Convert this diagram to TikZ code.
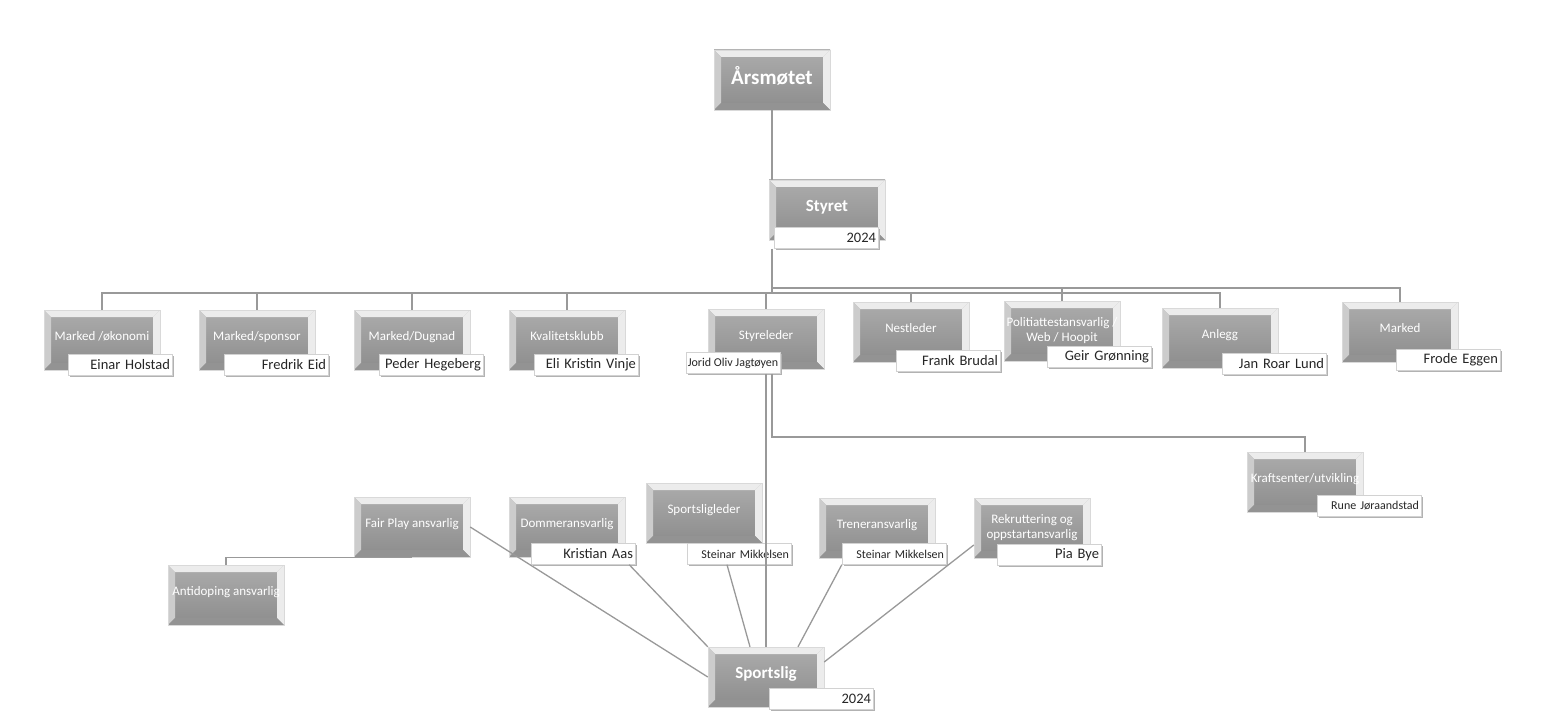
\documentclass[tikz,border=0pt]{standalone}
\usepackage{fontspec}
\setmainfont{Carlito}
\usetikzlibrary{shadows}

\tikzset{
  tile/.style={rectangle, minimum width=116pt, minimum height=60pt, inner sep=1pt,
    top color=gray!65, bottom color=gray!90, draw=gray!30, text=white, align=center,
    font=\fontsize{13}{15}\selectfont, text depth=9pt,
    path picture={
      \path[fill=gray!15] (path picture bounding box.north west) -- (path picture bounding box.north east)
        -- ([shift={(-7pt,-7pt)}]path picture bounding box.north east) -- ([shift={(7pt,-7pt)}]path picture bounding box.north west) -- cycle;
      \path[fill=gray!40] (path picture bounding box.north west) -- ([shift={(7pt,-7pt)}]path picture bounding box.north west)
        -- ([shift={(7pt,7pt)}]path picture bounding box.south west) -- (path picture bounding box.south west) -- cycle;
      \path[fill=gray!15] (path picture bounding box.north east) -- ([shift={(-7pt,-7pt)}]path picture bounding box.north east)
        -- ([shift={(-7pt,7pt)}]path picture bounding box.south east) -- (path picture bounding box.south east) -- cycle;
      \path[fill=gray!85] (path picture bounding box.south west) -- ([shift={(7pt,7pt)}]path picture bounding box.south west)
        -- ([shift={(-7pt,7pt)}]path picture bounding box.south east) -- (path picture bounding box.south east) -- cycle;
    }},
  bigtile/.style={tile, font=\fontsize{17}{19}\selectfont\bfseries},
  namebox/.style={rectangle, fill=white, draw=gray!35, minimum width=104pt, minimum height=21pt,
    inner xsep=2pt, inner ysep=0pt, text width=100pt, align=right, text=black!85,
    font=\fontsize{14.5}{17}\selectfont,
    drop shadow={shadow xshift=1.5pt, shadow yshift=-1.5pt, fill=gray!60, opacity=1}},
  smallname/.style={namebox, font=\fontsize{12}{14}\selectfont},
  link/.style={draw=gray!80, line width=1.3pt}
}

\begin{document}
\begin{tikzpicture}[x=1pt, y=-1pt]
      \useasboundingbox (0,0) rectangle (1547,722);

      \node[bigtile, font=\fontsize{21}{23}\selectfont\bfseries] (A) at (772,80) {Årsmøtet};
      \node[bigtile] (B) at (827,210) {Styret};
      \node[namebox] (B2) at (826,238) {2024};

      \node[tile] (C) at (102,340) {Marked /økonomi};
      \node[namebox] (C2) at (120,365) {Einar Holstad};
      \node[tile] (D) at (257,340) {Marked/sponsor};
      \node[namebox] (D2) at (276,365) {Fredrik Eid};
      \node[tile] (E) at (412,340) {Marked/Dugnad};
      \node[namebox] (E2) at (431,365) {Peder Hegeberg};
      \node[tile] (F) at (567,340) {Kvalitetsklubb};
      \node[namebox] (F2) at (586,365) {Eli Kristin Vinje};
      \node[tile] (G) at (766,339) {Styreleder};
      \node[smallname, minimum width=94pt, text width=, align=center, inner xsep=1pt] (G2) at (733,363) {Jorid Oliv Jagtøyen};
      \node[tile] (H) at (911,332) {Nestleder};
      \node[namebox] (H2) at (948,361) {Frank Brudal};
      \node[tile, text depth=] (I) at (1062,331) {Politiattestansvarlig /\\Web / Hoopit};
      \node[namebox] (I2) at (1099,357) {Geir Grønning};
      \node[tile] (J) at (1220,338) {Anlegg};
      \node[namebox] (J2) at (1274,364) {Jan Roar Lund};
      \node[tile] (K) at (1400,332) {Marked};
      \node[namebox] (K2) at (1448,360) {Frode Eggen};

      \node[tile] (L) at (1305,482) {Kraftsenter/utvikling};
      \node[smallname] (L2) at (1369,506) {Rune Jøraandstad};

      \node[tile] (N) at (412,527) {Fair Play ansvarlig};
      \node[tile] (O) at (226,595) {Antidoping ansvarlig};
      \node[tile] (P) at (567,527) {Dommeransvarlig};
      \node[namebox] (P2) at (583,554) {Kristian Aas};
      \node[tile] (Q) at (704,513) {Sportsligleder};
      \node[smallname] (Q2) at (739,554) {Steinar Mikkelsen};
      \node[tile] (R) at (877,528) {Treneransvarlig};
      \node[smallname] (R2) at (894,554) {Steinar Mikkelsen};
      \node[tile, text depth=] (S) at (1032,528) {Rekruttering og\\oppstartansvarlig};
      \node[namebox] (S2) at (1049,555) {Pia Bye};

      \node[bigtile] (M) at (766,677) {Sportslig};
      \node[namebox] (M2) at (821,699) {2024};

      \coordinate (bus) at (772,293);
      \coordinate (bus2) at (772,288);
      \coordinate (kr) at (772,437);

      \draw[link] (A) -- (A |- B.north);
      \draw[link] (B2.south -| A) -- (bus);
      \draw[link] (bus) -| (C);
      \draw[link] (bus) -| (D);
      \draw[link] (bus) -| (E);
      \draw[link] (bus) -| (F);
      \draw[link] (bus) -| (G);
      \draw[link] (bus) -| (H);
      \draw[link] (bus) -| (J);
      \draw[link] (bus2) -| (I);
      \draw[link] (bus2) -| (K);
      \draw[link] (G2.south -| kr) -- (kr) -| (L);
      \draw[link] (G2.south -| M) -- (M);
      \draw[link] (N.south) -| (O);
      \draw[link] (N.east) -- (M.west);
      \draw[link] ([xshift=-6pt]P2.south east) -- (M.north west);
      \draw[link] ([xshift=-12pt]Q2.south) -- ([xshift=-16pt]M.north);
      \draw[link] (R2.south west) -- ([xshift=32pt]M.north);
      \draw[link] ([yshift=-17pt]S.west) -- ([yshift=15pt]M.east);
    \end{tikzpicture}
\end{document}
